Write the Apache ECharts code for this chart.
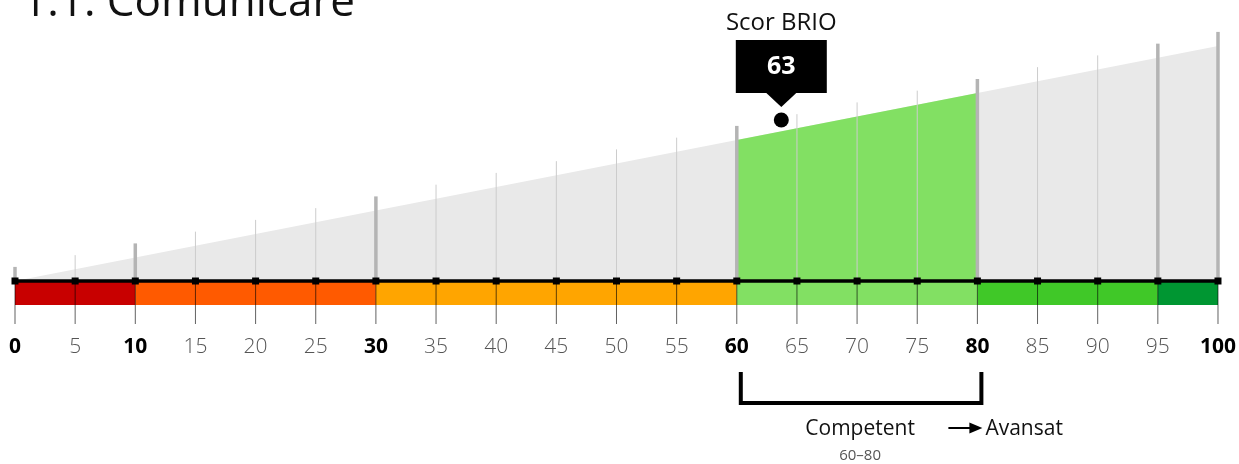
<!DOCTYPE html>
<html><head><meta charset="utf-8">
<script src="https://cdn.jsdelivr.net/npm/echarts@6/dist/echarts.min.js"></script>
<style>html,body{margin:0;padding:0;background:#fff;}#c{width:1239px;height:464px;}</style>
</head><body><div id="c"></div>
<script>
// ---- data ----
const titleText = '1.1. Comunicare';
const tickValues = [0,5,10,15,20,25,30,35,40,45,50,55,60,65,70,75,80,85,90,95,100];
const boldTicks = [0,10,30,60,80,100];
const thickLines = [0,10,30,60,80,95,100];
const bandEdges = [0,10,30,60,80,95,100];
const wedgeData = [[0,0],[100,100]];
const activeRange = [60,80];
const scoreTitle = 'Scor BRIO';
const scoreLabel = '63';
const scorePoint = [63.7, 68.5];
const rangeName = 'Competent';
const rangeText = '60–80';
const nextLevel = 'Avansat';

const bandColors = ['#c80000','#ff5a00','#ffa500','#82e063','#40c828','#009632'];
const FONT = "'Open Sans', 'Noto Sans', sans-serif";
const wedgeAt = v => wedgeData[0][1] + (wedgeData[1][1]-wedgeData[0][1])*(v-wedgeData[0][0])/(wedgeData[1][0]-wedgeData[0][0]);

const chart = echarts.init(document.getElementById('c'), null, {renderer:'canvas'});
const bandData = bandEdges.slice(0,-1).map((a,i)=>[a, bandEdges[i+1], i]);

chart.setOption({
  animation:false,
  textStyle:{fontFamily:FONT},
  grid:{left:15,right:20,top:46,bottom:183},
  xAxis:{type:'value',min:0,max:100,interval:5,
    axisLine:{show:true,lineStyle:{color:'#000',width:3.5}},
    axisTick:{show:false},splitLine:{show:false},z:5,
    axisLabel:{margin:56,
      formatter:v=>boldTicks.includes(v)?'{b|'+v+'}':'{l|'+v+'}',
      rich:{b:{fontFamily:FONT,fontSize:21,fontWeight:'bold',color:'#000'},
            l:{fontFamily:FONT,fontSize:21,fontWeight:300,color:'#555'}}}
  },
  yAxis:{type:'value',min:0,max:100,show:false},
  graphic:[{type:'text',left:22,top:-19,style:{text:titleText,font:'44px '+FONT,fill:'#111'}}],
  series:[
    {type:'line',data:wedgeData,symbol:'none',lineStyle:{width:0},areaStyle:{color:'#e9e9e9',opacity:1},z:1},
    {type:'line',data:activeRange.map(v=>[v,wedgeAt(v)]),symbol:'none',lineStyle:{width:0},areaStyle:{color:'#82e063',opacity:1},z:2},
    {type:'custom',clip:false,z:3,data:bandData,encode:{x:[0,1]},
      renderItem:(p,api)=>{
        const a=api.coord([api.value(0),0]), b=api.coord([api.value(1),0]);
        return {type:'rect',shape:{x:a[0],y:a[1],width:b[0]-a[0],height:24},style:{fill:bandColors[api.value(2)]}};
      }},
    {type:'custom',clip:false,z:4,data:tickValues.map(v=>[v]),encode:{x:0},
      renderItem:(p,api)=>{
        const v=api.value(0);
        const base=api.coord([v,0]), top=api.coord([v,wedgeAt(v)+6]);
        const thick=thickLines.includes(v);
        return {type:'group',children:[
          {type:'line',shape:{x1:base[0],y1:base[1],x2:top[0],y2:top[1]},style:{stroke:thick?'#b4b4b4':'#cccccc',lineWidth:thick?3.5:1}},
          {type:'line',shape:{x1:base[0],y1:base[1],x2:base[0],y2:base[1]+43},style:{stroke:'rgba(0,0,0,0.62)',lineWidth:1}}
        ]};
      }},
    {type:'scatter',data:tickValues.map(v=>[v,0]),symbol:'rect',symbolSize:7,itemStyle:{color:'#000',opacity:1},z:6,silent:true},
    {type:'scatter',data:[scorePoint],symbol:'circle',symbolSize:15,itemStyle:{color:'#000',opacity:1},z:7,silent:true},
    {type:'custom',clip:false,z:8,data:[scorePoint],encode:{x:0,y:1},
      renderItem:(p,api)=>{
        const c=api.coord([api.value(0),api.value(1)]);
        const x=c[0], y=c[1];
        return {type:'group',children:[
          {type:'rect',shape:{x:x-45.5,y:y-80,width:91,height:53},style:{fill:'#000'}},
          {type:'polygon',shape:{points:[[x-15.5,y-27.5],[x+15.5,y-27.5],[x,y-13]]},style:{fill:'#000'}},
          {type:'text',x:x,y:y-53,style:{text:scoreLabel,font:'bold 25px '+FONT,fill:'#fff',align:'center',verticalAlign:'middle'}},
          {type:'text',x:x,y:y-97,style:{text:scoreTitle,font:'24px '+FONT,fill:'#111',align:'center',verticalAlign:'middle'}}
        ]};
      }},
    {type:'custom',clip:false,z:8,data:[activeRange],encode:{x:[0,1]},
      renderItem:(p,api)=>{
        const a=api.coord([api.value(0),0]), b=api.coord([api.value(1),0]);
        const m=api.coord([(api.value(0)+api.value(1))/2,0]);
        const y0=a[1];
        const xl=a[0]+4, xr=b[0]+4;
        return {type:'group',children:[
          {type:'polyline',shape:{points:[[xl,y0+91],[xl,y0+122],[xr,y0+122],[xr,y0+91]]},style:{stroke:'#000',lineWidth:4,fill:null}},
          {type:'text',x:m[0]+3,y:y0+148,style:{text:rangeName,font:'21px '+FONT,fill:'#111',align:'center',verticalAlign:'middle'}},
          {type:'text',x:m[0]+3,y:y0+175,style:{text:rangeText,font:'15px '+FONT,fill:'#555',align:'center',verticalAlign:'middle'}},
          {type:'line',shape:{x1:b[0]-29,y1:y0+147,x2:b[0]-6,y2:y0+147},style:{stroke:'#000',lineWidth:2}},
          {type:'polygon',shape:{points:[[b[0]-8,y0+141.5],[b[0]+5,y0+147],[b[0]-8,y0+152.5]]},style:{fill:'#000'}},
          {type:'text',x:b[0]+8,y:y0+148,style:{text:nextLevel,font:'21px '+FONT,fill:'#111',align:'left',verticalAlign:'middle'}}
        ]};
      }}
  ]
});
</script></body></html>
